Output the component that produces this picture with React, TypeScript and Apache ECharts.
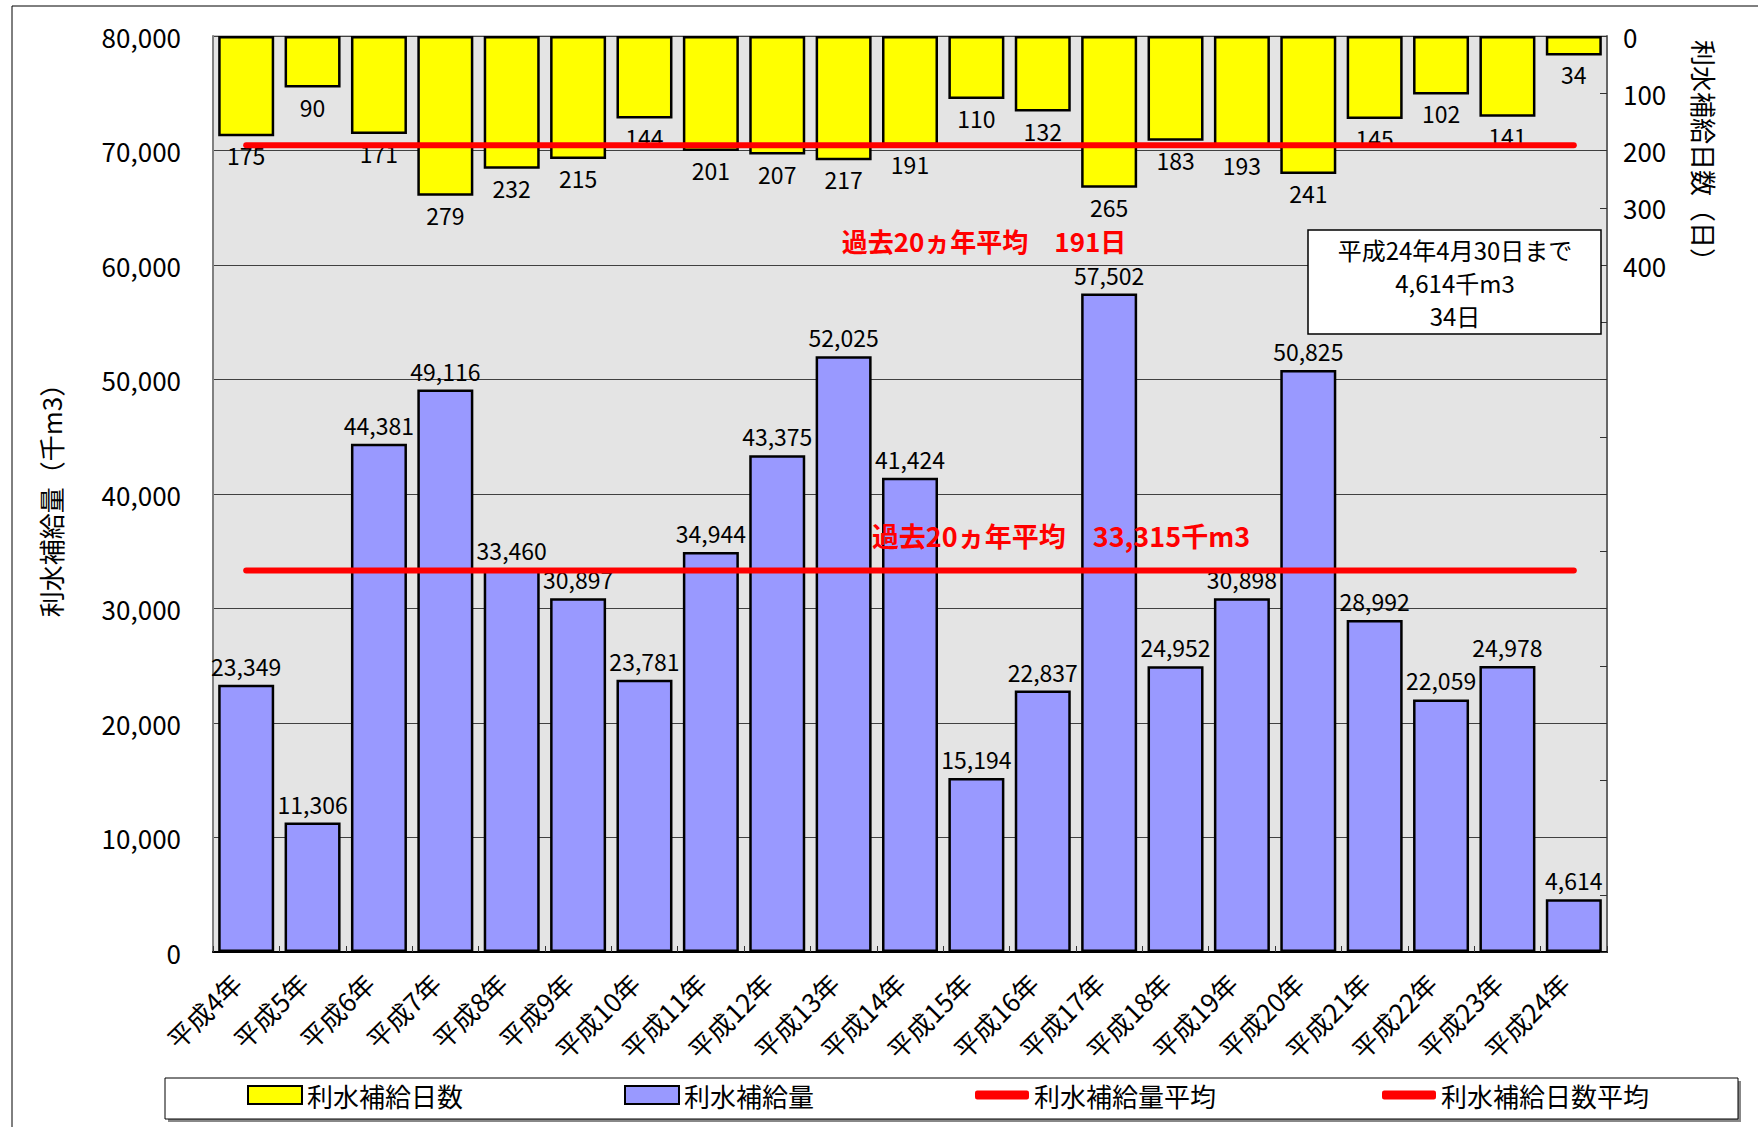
import React, { useEffect, useRef } from "react";
import * as echarts from "echarts";

const categories = [
  "平成4年", "平成5年", "平成6年", "平成7年", "平成8年", "平成9年", "平成10年",
  "平成11年", "平成12年", "平成13年", "平成14年", "平成15年", "平成16年", "平成17年",
  "平成18年", "平成19年", "平成20年", "平成21年", "平成22年", "平成23年", "平成24年",
];
const supplyVolume = [
  23349, 11306, 44381, 49116, 33460, 30897, 23781, 34944, 43375, 52025, 41424,
  15194, 22837, 57502, 24952, 30898, 50825, 28992, 22059, 24978, 4614,
];
const supplyDays = [
  175, 90, 171, 279, 232, 215, 144, 201, 207, 217, 191, 110, 132, 265, 183, 193,
  241, 145, 102, 141, 34,
];
const averageVolume = 33315;
const averageDays = 191;
const leftTicks = { min: 0, max: 80000, interval: 10000 };
const rightTicks = { min: 0, max: 1600, interval: 100, labelMax: 400 };
const noteLines = ["平成24年4月30日まで", "4,614千m3", "34日"];

const FONT = "'Noto Sans CJK JP', 'Noto Sans', sans-serif";
const fmt = (v: number) => v.toLocaleString("en-US");

export default function App() {
  const ref = useRef<HTMLDivElement>(null);
  useEffect(() => {
    if (!ref.current) return;
    const chart = echarts.init(ref.current, null, { renderer: "svg" });
    const first = categories[0];
    const last = categories[categories.length - 1];
    const legendText = { fontFamily: FONT, fontSize: 26, color: "#000" };
    chart.setOption({
      animation: false,
      backgroundColor: "#fff",
      textStyle: { fontFamily: FONT },
      grid: {
        left: 213,
        top: 36,
        width: 1394,
        height: 916,
        show: true,
        backgroundColor: "#e4e4e4",
        borderColor: "#808080",
        borderWidth: 1,
      },
      xAxis: {
        type: "category",
        data: categories,
        axisLine: { lineStyle: { color: "#000", width: 2 } },
        axisTick: { show: true, inside: true, length: 6, lineStyle: { color: "#333" } },
        axisLabel: {
          rotate: 45,
          interval: 0,
          margin: 16,
          padding: [0, 14, 0, 0],
          fontSize: 26,
          color: "#000",
          fontFamily: FONT,
        },
      },
      yAxis: [
        {
          type: "value",
          min: leftTicks.min,
          max: leftTicks.max,
          interval: leftTicks.interval,
          name: "利水補給量（千m3）",
          nameLocation: "middle",
          nameRotate: 90,
          nameGap: 150,
          nameTextStyle: { fontSize: 26, color: "#000", fontFamily: FONT },
          axisLine: { show: true, lineStyle: { color: "#808080", width: 2 } },
          axisTick: { show: false },
          axisLabel: {
            margin: 32,
            fontSize: 26,
            color: "#000",
            fontFamily: FONT,
            formatter: (v: number) => fmt(v),
          },
          splitLine: { show: true, lineStyle: { color: "#404040", width: 1 } },
        },
        {
          type: "value",
          inverse: true,
          min: rightTicks.min,
          max: rightTicks.max,
          interval: rightTicks.interval,
          position: "right",
          axisLine: { show: true, lineStyle: { color: "#666", width: 2 } },
          axisTick: { show: true, inside: true, length: 7, lineStyle: { color: "#333" } },
          axisLabel: {
            margin: 16,
            fontSize: 26,
            color: "#000",
            fontFamily: FONT,
            formatter: (v: number) => (v <= rightTicks.labelMax ? fmt(v) : ""),
          },
          splitLine: { show: false },
        },
      ],
      legend: [
        { data: ["利水補給日数"], left: 247, icon: "rect" },
        { data: ["利水補給量"], left: 624, icon: "rect" },
        { data: ["利水補給量平均"], left: 975, itemHeight: 9, icon: "roundRect" },
        { data: ["利水補給日数平均"], left: 1382, itemHeight: 9, icon: "roundRect" },
      ].map((l) => ({
        top: 1082,
        padding: 0,
        itemWidth: 54,
        itemHeight: 18,
        itemGap: 6,
        textStyle: legendText,
        ...l,
      })),
      series: [
        {
          name: "利水補給量",
          type: "bar",
          yAxisIndex: 0,
          data: supplyVolume,
          barWidth: 56,
          barGap: "-100%",
          itemStyle: { color: "#9999FF", borderColor: "#000", borderWidth: 2.5 },
          label: {
            show: true,
            position: "top",
            distance: 7,
            fontSize: 23,
            lineHeight: 24,
            color: "#000",
            fontFamily: FONT,
            formatter: (p: any) => fmt(p.value),
          },
        },
        {
          name: "利水補給日数",
          type: "bar",
          yAxisIndex: 1,
          data: supplyDays,
          barWidth: 56,
          barGap: "-100%",
          itemStyle: { color: "#FFFF00", borderColor: "#000", borderWidth: 2.5 },
          label: {
            show: true,
            position: "bottom",
            distance: 7,
            fontSize: 23,
            lineHeight: 24,
            color: "#000",
            fontFamily: FONT,
          },
        },
        {
          name: "利水補給量平均",
          type: "line",
          yAxisIndex: 0,
          data: [[first, averageVolume], [last, averageVolume]],
          symbol: "none",
          itemStyle: { color: "#FF0000" },
          lineStyle: { color: "#FF0000", width: 6, cap: "round" },
          z: 5,
        },
        {
          name: "利水補給日数平均",
          type: "line",
          yAxisIndex: 1,
          data: [[first, averageDays], [last, averageDays]],
          symbol: "none",
          itemStyle: { color: "#FF0000" },
          lineStyle: { color: "#FF0000", width: 6, cap: "round" },
          z: 5,
        },
      ],
      graphic: [
        {
          type: "rect",
          shape: { x: 12, y: 6, width: 1800, height: 1200 },
          style: { fill: "none", stroke: "#000", lineWidth: 1 },
          silent: true,
          z: -10,
        },
        {
          type: "rect",
          shape: { x: 168, y: 1081, width: 1573, height: 41 },
          style: { fill: "#888" },
          silent: true,
          z: -5,
        },
        {
          type: "rect",
          shape: { x: 165, y: 1078, width: 1573, height: 41 },
          style: { fill: "#fff", stroke: "#000", lineWidth: 1 },
          silent: true,
          z: -4,
        },
        {
          type: "text",
          x: 1704,
          y: 157,
          rotation: -Math.PI / 2,
          style: {
            text: "利水補給日数（日）",
            fontSize: 26,
            fontFamily: FONT,
            fill: "#000",
            align: "center",
            verticalAlign: "middle",
          },
          z: 10,
        },
        {
          type: "text",
          x: 984,
          y: 240,
          style: {
            text: "過去20ヵ年平均　191日",
            fontSize: 26,
            lineHeight: 26,
            fontWeight: "bold",
            fontFamily: FONT,
            fill: "#FF0000",
            align: "center",
            verticalAlign: "middle",
          },
          z: 10,
        },
        {
          type: "text",
          x: 1061,
          y: 535,
          style: {
            text: "過去20ヵ年平均　33,315千m3",
            fontSize: 27,
            lineHeight: 27,
            fontWeight: "bold",
            fontFamily: FONT,
            fill: "#FF0000",
            align: "center",
            verticalAlign: "middle",
          },
          z: 10,
        },
        {
          type: "rect",
          shape: { x: 1308, y: 230, width: 293, height: 104 },
          style: { fill: "#fff", stroke: "#000", lineWidth: 1.5 },
          z: 10,
        },
        ...noteLines.map((t, i) => ({
          type: "text",
          x: 1455,
          y: 249 + i * 33,
          style: {
            text: t,
            fontSize: 24,
            lineHeight: 26,
            fontFamily: FONT,
            fill: "#000",
            align: "center",
            verticalAlign: "middle",
          },
          z: 11,
        })),
      ],
    });
    return () => chart.dispose();
  }, []);
  return (
    <div
      ref={ref}
      style={{ position: "absolute", left: 0, top: 0, width: 1758, height: 1127 }}
    />
  );
}
